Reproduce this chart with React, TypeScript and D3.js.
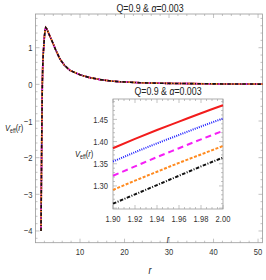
import * as d3 from "d3";

// main curve (all five cases overlap at this scale)
const rMain = [1.24, 1.3, 1.38, 1.45, 1.53, 1.62, 1.72, 1.84, 2.0, 2.15, 2.3, 2.5, 2.8, 3.0, 3.5, 4.0, 4.5, 5.5, 6.5, 7.75, 10, 12, 14.5, 17, 19, 23.5, 28, 35, 42, 50, 51];
const vMain = [-4.0, -3.0, -1.8, -0.9, 0.0, 0.45, 0.8, 1.0, 1.3, 1.48, 1.55, 1.52, 1.44, 1.38, 1.24, 1.1, 0.95, 0.69, 0.52, 0.38, 0.26, 0.19, 0.13, 0.09, 0.07, 0.045, 0.03, 0.02, 0.012, 0.008, 0.007];

// inset zoom
const rInset = [1.9, 1.92, 1.94, 1.96, 1.98, 2.0];
const vRed = [1.385, 1.406, 1.426, 1.445, 1.464, 1.482];
const vBlue = [1.355, 1.376, 1.396, 1.415, 1.434, 1.452];
const vMagenta = [1.323, 1.344, 1.365, 1.385, 1.405, 1.424];
const vOrange = [1.291, 1.312, 1.332, 1.352, 1.371, 1.39];
const vBlack = [1.26, 1.281, 1.302, 1.323, 1.344, 1.364];

const mainTicksX = [10, 20, 30, 40, 50];
const mainTicksY = [-4, -3, -2, -1, 0, 1];
const insetTicksX = ["1.90", "1.92", "1.94", "1.96", "1.98", "2.00"];
const insetTicksY = ["1.30", "1.35", "1.40", "1.45"];

const styles = [
  { color: "#f21c1c", dash: "none" },
  { color: "#1f1fff", dash: "1,1.2" },
  { color: "#f51ff5", dash: "6,4" },
  { color: "#ff8a1f", dash: "3,1.6" },
  { color: "#111111", dash: "3.5,1.5,1,1.5" },
];
const insetSeries = [vRed, vBlue, vMagenta, vOrange, vBlack];

const font = "'Liberation Sans', Arial, sans-serif";
const frameColor = "#9a9a9a";
const labelColor = "#333";

// condensed text, like the squeezed Mathematica labels
const T = ({ x, y, size, anchor = "start", fill = "#222", italic = false, children }: any) => (
  <g transform={`translate(${x},${y}) scale(0.8,1)`}>
    <text x={0} y={0} fontSize={size} textAnchor={anchor} fill={fill} fontStyle={italic ? "italic" : "normal"}>{children}</text>
  </g>
);

const VLabel = ({ x, y }: any) => (
  <T x={x} y={y} size={9.5}>
    <tspan fontStyle="italic">V</tspan><tspan fontSize={6.5} dy={2}>eff</tspan><tspan dy={-2}>(</tspan><tspan fontStyle="italic">r</tspan>)
  </T>
);

export default function App() {
  // main panel
  const x = d3.scaleLinear().domain([0, 51]).range([35.5, 262.5]);
  const y = d3.scaleLinear().domain([-4.32, 1.92]).range([242.7, 14]);
  // inset panel
  const xi = d3.scaleLinear().domain([1.9, 2.0]).range([113, 223]);
  const yi = d3.scaleLinear().domain([1.248, 1.496]).range([209, 99]);

  const mainLine = d3.line<number>().x((d, i) => x(rMain[i])).y((d) => y(d));
  const insetLine = d3.line<number>().x((d, i) => xi(rInset[i])).y((d) => yi(d)).curve(d3.curveMonotoneX);

  const [x0, x1] = x.range();
  const [y0, y1] = y.range();
  const [xi0, xi1] = xi.range();
  const [yi0, yi1] = yi.range();

  const minorX = d3.range(2, 51, 2);
  const minorY = d3.range(-4.2, 1.9, 0.2);
  const minorXi = d3.range(1.9, 2.0001, 0.005);
  const minorYi = d3.range(1.25, 1.4951, 0.01);

  return (
    <svg width={266} height={280} style={{ position: "absolute", left: 0, top: 0, background: "#fff" }} fontFamily={font}>
      {/* main frame */}
      <rect x={x0} y={y1} width={x1 - x0} height={y0 - y1} fill="none" stroke={frameColor} strokeWidth={0.8} />
      {minorX.map((t) => {
        const len = t % 10 === 0 ? 4 : 2;
        return (
          <g key={"mx" + t} stroke={frameColor} strokeWidth={0.6}>
            <line x1={x(t)} x2={x(t)} y1={y0} y2={y0 - len} />
            <line x1={x(t)} x2={x(t)} y1={y1} y2={y1 + len} />
          </g>
        );
      })}
      {minorY.map((t, i) => {
        const len = Math.abs(t - Math.round(t)) < 1e-6 ? 4 : 2;
        return (
          <g key={"my" + i} stroke={frameColor} strokeWidth={0.6}>
            <line x1={x0} x2={x0 + len} y1={y(t)} y2={y(t)} />
            <line x1={x1} x2={x1 - len} y1={y(t)} y2={y(t)} />
          </g>
        );
      })}
      {mainTicksX.map((t) => (
        <T key={"tx" + t} x={x(t)} y={y0 + 12} size={9.5} anchor="middle" fill={labelColor}>{t}</T>
      ))}
      {mainTicksY.map((t) => (
        <T key={"ty" + t} x={x0 - 3} y={y(t) + 3.5} size={9.5} anchor="end" fill={labelColor}>{t < 0 ? "\u2212" + Math.abs(t) : t}</T>
      ))}
      <T x={150} y={12} size={11} anchor="middle">Q=0.9 &amp; <tspan fontStyle="italic">α</tspan>=0.003</T>
      <T x={150} y={274} size={11} anchor="middle" italic>r</T>
      <VLabel x={5} y={131} />

      {/* main curves */}
      {styles.map((s, i) => (
        <path key={"m" + i} d={mainLine(vMain) || ""} fill="none" stroke={s.color} strokeWidth={1.6} strokeDasharray={s.dash} />
      ))}

      {/* inset */}
      <rect x={xi0} y={yi1} width={xi1 - xi0} height={yi0 - yi1} fill="#fff" stroke={frameColor} strokeWidth={0.8} />
      {minorXi.map((t, i) => {
        const len = i % 4 === 0 ? 4 : 2;
        return (
          <g key={"ixm" + i} stroke={frameColor} strokeWidth={0.6}>
            <line x1={xi(t)} x2={xi(t)} y1={yi0} y2={yi0 - len} />
            <line x1={xi(t)} x2={xi(t)} y1={yi1} y2={yi1 + len} />
          </g>
        );
      })}
      {minorYi.map((t, i) => {
        const len = i % 5 === 0 ? 4 : 2;
        return (
          <g key={"iym" + i} stroke={frameColor} strokeWidth={0.6}>
            <line x1={xi0} x2={xi0 + len} y1={yi(t)} y2={yi(t)} />
            <line x1={xi1} x2={xi1 - len} y1={yi(t)} y2={yi(t)} />
          </g>
        );
      })}
      {insetTicksX.map((t) => (
        <T key={"itx" + t} x={xi(+t)} y={yi0 + 13} size={9.5} anchor="middle" fill={labelColor}>{t}</T>
      ))}
      {insetTicksY.map((t) => (
        <T key={"ity" + t} x={xi0 - 5} y={yi(+t) + 3.5} size={9.5} anchor="end" fill={labelColor}>{t}</T>
      ))}
      {insetSeries.map((v, i) => (
        <path key={"i" + i} d={insetLine(v) || ""} fill="none" stroke={styles[i].color} strokeWidth={2} strokeDasharray={styles[i].dash} />
      ))}
      <T x={168} y={95} size={11} anchor="middle">Q=0.9 &amp; <tspan fontStyle="italic">α</tspan>=0.003</T>
      <T x={168} y={243} size={10} anchor="middle" italic>r</T>
      <VLabel x={75} y={157} />
    </svg>
  );
}
